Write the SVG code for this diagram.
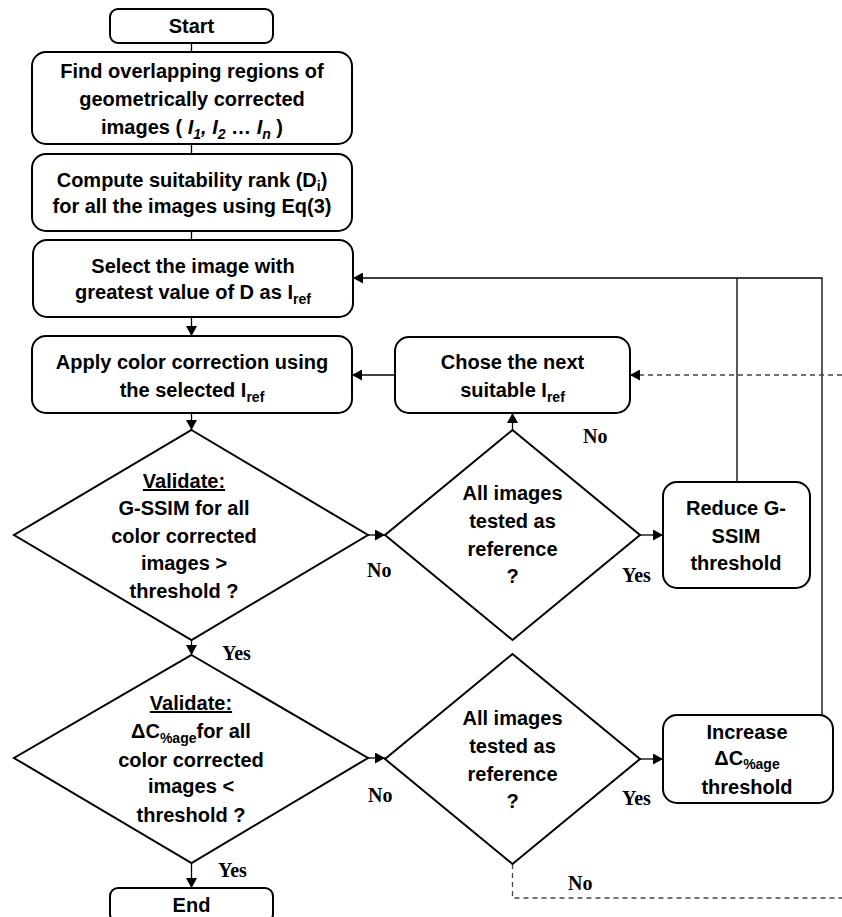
<svg xmlns="http://www.w3.org/2000/svg" width="842" height="917" viewBox="0 0 842 917">
<defs>
<marker id="ah" viewBox="0 0 10 11" refX="10" refY="5.5" markerWidth="10" markerHeight="11" markerUnits="userSpaceOnUse" orient="auto">
<path d="M0,0 L10,5.5 L0,11 z" fill="#000"/>
</marker>
</defs>
<style>
.box{fill:#fff;stroke:#000;stroke-width:2}
.t{font-family:"Liberation Sans",Arial,sans-serif;font-weight:bold;font-size:20px;text-anchor:middle;fill:#000}
.s{font-size:14px}
.lbl{font-family:"Liberation Serif","Times New Roman",serif;font-weight:bold;font-size:20px;fill:#000}
.c{fill:none;stroke:#000;stroke-width:1.3}
.d{fill:none;stroke:#444;stroke-width:1.3;stroke-dasharray:5,4}
</style>
<rect width="842" height="917" fill="#fff"/>
<g id="connectors">
<path class="c" d="M191.5,43 V52"/>
<path class="c" d="M191.5,144 V154"/>
<path class="c" d="M191.5,231 V240"/>
<path class="c" d="M191.5,317 V336" marker-end="url(#ah)"/>
<path class="c" d="M191.5,413 V430" marker-end="url(#ah)"/>
<path class="c" d="M368,535 H385" marker-end="url(#ah)"/>
<path class="c" d="M512.5,430 V413" marker-end="url(#ah)"/>
<path class="c" d="M395,375 H352" marker-end="url(#ah)"/>
<path class="c" d="M640,535 H663" marker-end="url(#ah)"/>
<path class="c" d="M737,482 V278"/>
<path class="c" d="M822,715 V278 H353" marker-end="url(#ah)"/>
<path class="c" d="M191.5,640 V655" marker-end="url(#ah)"/>
<path class="c" d="M368,758 H385" marker-end="url(#ah)"/>
<path class="c" d="M640,759 H663" marker-end="url(#ah)"/>
<path class="c" d="M191.5,863 V888" marker-end="url(#ah)"/>
<path class="d" d="M512.5,864 V898 H842"/>
<path class="d" d="M842,375 H630" marker-end="url(#ah)"/>
<text class="lbl" x="367" y="577">No</text>
<text class="lbl" x="222" y="660">Yes</text>
<text class="lbl" x="583" y="443">No</text>
<text class="lbl" x="622" y="582">Yes</text>
<text class="lbl" x="368" y="802">No</text>
<text class="lbl" x="622" y="805">Yes</text>
<text class="lbl" x="568" y="890">No</text>
<text class="lbl" x="218" y="877">Yes</text>
</g>
<g id="start">
<rect class="box" x="110" y="9" width="163" height="34" rx="8"/>
<text class="t" x="191.5" y="33">Start</text>
</g>
<g id="find">
<rect class="box" x="32" y="52" width="320" height="92" rx="14"/>
<text class="t" x="192" y="78">Find overlapping regions of</text>
<text class="t" x="192" y="106">geometrically corrected</text>
<text class="t" x="192" y="134">images ( <tspan font-style="italic">I</tspan><tspan class="s" dy="5" font-style="italic">1</tspan><tspan dy="-5" font-style="italic">, I</tspan><tspan class="s" dy="5" font-style="italic">2</tspan><tspan dy="-5"> … </tspan><tspan font-style="italic">I</tspan><tspan class="s" dy="5" font-style="italic">n</tspan><tspan dy="-5"> )</tspan></text>
</g>
<g id="compute">
<rect class="box" x="32" y="154" width="320" height="77" rx="14"/>
<text class="t" x="192" y="187">Compute suitability rank (D<tspan class="s" dy="4">i</tspan><tspan dy="-4">)</tspan></text>
<text class="t" x="192" y="213">for all the images using Eq(3)</text>
</g>
<g id="select">
<rect class="box" x="33" y="240" width="320" height="77" rx="14"/>
<text class="t" x="193" y="273">Select the image with</text>
<text class="t" x="193" y="299">greatest value of D as I<tspan class="s" dy="5">ref</tspan></text>
</g>
<g id="apply">
<rect class="box" x="32" y="336" width="320" height="77" rx="14"/>
<text class="t" x="192" y="369">Apply color correction using</text>
<text class="t" x="192" y="397">the selected I<tspan class="s" dy="5">ref</tspan></text>
</g>
<g id="chose">
<rect class="box" x="395" y="337" width="235" height="76" rx="14"/>
<text class="t" x="512.5" y="369">Chose the next</text>
<text class="t" x="512.5" y="397">suitable I<tspan class="s" dy="5">ref</tspan></text>
</g>
<g id="validate1">
<polygon class="box" points="191.5,430 368,535 191.5,640 14,535"/>
<text class="t" x="184" y="488" text-decoration="underline">Validate:</text>
<text class="t" x="184" y="515">G-SSIM for all</text>
<text class="t" x="184" y="543">color corrected</text>
<text class="t" x="184" y="570">images &gt;</text>
<text class="t" x="184" y="598">threshold ?</text>
</g>
<g id="validate2">
<polygon class="box" points="191.5,655 368,758 191.5,863 14,758"/>
<text class="t" x="191" y="710" text-decoration="underline">Validate:</text>
<text class="t" x="191" y="738">ΔC<tspan class="s" dy="5">%age</tspan><tspan dy="-5">for all</tspan></text>
<text class="t" x="191" y="767">color corrected</text>
<text class="t" x="191" y="793">images &lt;</text>
<text class="t" x="191" y="822">threshold ?</text>
</g>
<g id="tested1">
<polygon class="box" points="512.5,430 640,535 512.5,640 385,535"/>
<text class="t" x="512.5" y="500">All images</text>
<text class="t" x="512.5" y="528">tested as</text>
<text class="t" x="512.5" y="556">reference</text>
<text class="t" x="512.5" y="583">?</text>
</g>
<g id="tested2">
<polygon class="box" points="512.5,654 640,759 512.5,864 385,759"/>
<text class="t" x="512.5" y="725">All images</text>
<text class="t" x="512.5" y="753">tested as</text>
<text class="t" x="512.5" y="781">reference</text>
<text class="t" x="512.5" y="808">?</text>
</g>
<g id="reduce">
<rect class="box" x="663" y="482" width="147" height="106" rx="14"/>
<text class="t" x="736" y="515">Reduce G-</text>
<text class="t" x="736" y="543">SSIM</text>
<text class="t" x="736" y="570">threshold</text>
</g>
<g id="increase">
<rect class="box" x="663" y="715" width="170" height="88" rx="14"/>
<text class="t" x="747" y="739">Increase</text>
<text class="t" x="747" y="765">ΔC<tspan class="s" dy="4">%age</tspan></text>
<text class="t" x="747" y="794">threshold</text>
</g>
<g id="end">
<rect class="box" x="110" y="888" width="163" height="34" rx="8"/>
<text class="t" x="191.5" y="912">End</text>
</g>
</svg>
